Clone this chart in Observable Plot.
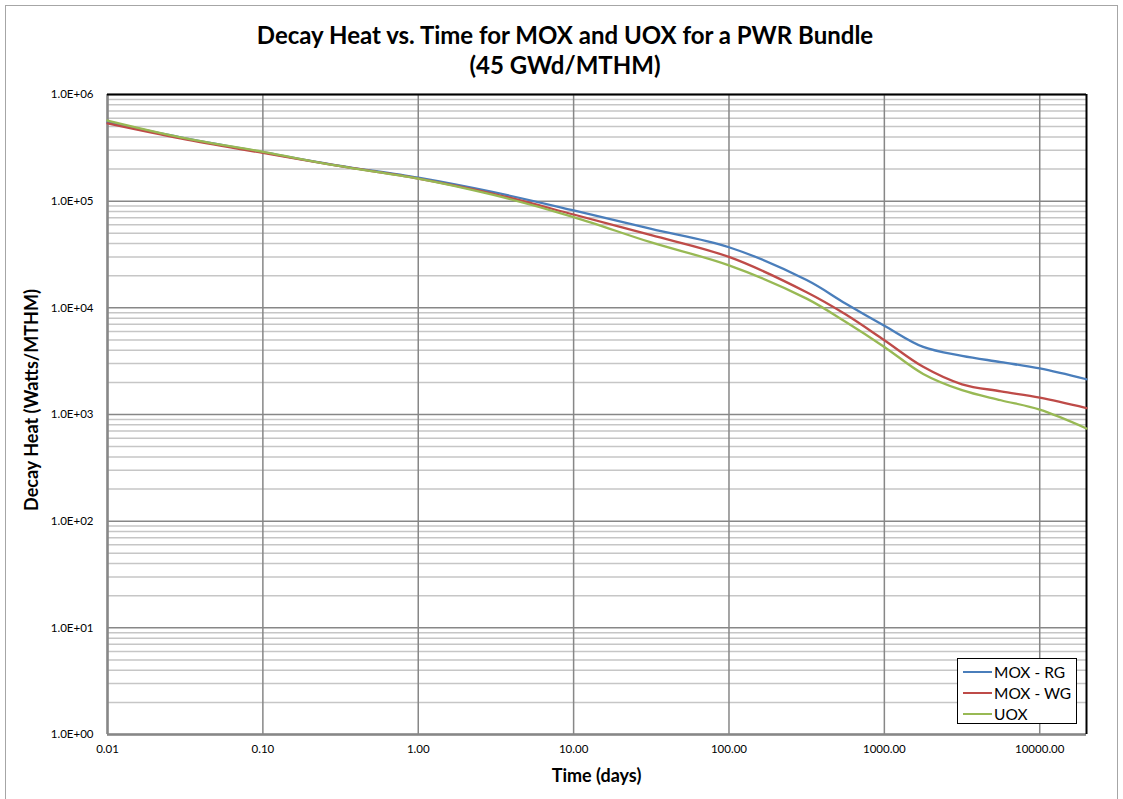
<!DOCTYPE html>
<html>
<head>
<meta charset="utf-8">
<script src="https://cdn.jsdelivr.net/npm/d3@7"></script>
<script src="https://cdn.jsdelivr.net/npm/@observablehq/plot@0.6"></script>
<style>
  html, body { margin: 0; padding: 0; background: #fff; }
  #wrap { position: relative; width: 1123px; height: 799px; overflow: hidden; font-family: Lato, "Open Sans", sans-serif; }
  #border { position: absolute; left: 5px; top: 5px; width: 1113px; height: 820px; border: 1px solid #a6a6a6; box-sizing: border-box; }
  #title { position: absolute; left: 0; width: 1130px; top: 20px; text-align: center; font-weight: bold; font-size: 24px; line-height: 30px; color: #000; }
  #xlabel { position: absolute; left: 107px; width: 979px; top: 764px; text-align: center; font-weight: bold; font-size: 18px; color: #000; }
  #ylabel { position: absolute; left: 31px; top: 400px; transform: translate(-50%, -50%) rotate(-90deg); white-space: nowrap; font-weight: bold; font-size: 18px; color: #000; }
  #legend { position: absolute; left: 957px; top: 658px; width: 120px; height: 66px; border: 1.5px solid #000; box-sizing: border-box; background: #fff; font-size: 15.5px; }
  #legend .item { position: absolute; left: 5px; height: 20px; display: flex; align-items: center; }
  #legend .sw { width: 29px; height: 2.5px; margin-right: 2px; }
  #chart { position: absolute; left: 0; top: 0; }
  #chart svg g[aria-label="x-axis tick label"], #chart svg g[aria-label="y-axis tick label"] { font-size: 11.5px !important; }
</style>
</head>
<body>
<div id="wrap">
  <div id="border"></div>
  <div id="chart"></div>
  <div id="title">Decay Heat vs. Time for MOX and UOX for a PWR Bundle<br>(45 GWd/MTHM)</div>
  <div id="ylabel">Decay Heat (Watts/MTHM)</div>
  <div id="xlabel">Time (days)</div>
  <div id="legend"></div>
</div>
<script>
// ---- data ----
const timeDays = [0.01, 0.03, 0.1, 0.3, 1, 3, 10, 31.6, 100, 316, 562, 1000, 1778, 3162, 5623, 10000, 20000];
const moxRG = [5.5e5, 3.95e5, 2.88e5, 2.17e5, 1.66e5, 1.22e5, 8.2e4, 5.5e4, 3.7e4, 1.82e4, 1.1e4, 6.8e3, 4.3e3, 3.55e3, 3.1e3, 2.7e3, 2.14e3];
const moxWG = [5.35e5, 3.85e5, 2.83e5, 2.15e5, 1.63e5, 1.18e5, 7.5e4, 4.8e4, 3.0e4, 1.4e4, 8.7e3, 4.97e3, 2.8e3, 1.92e3, 1.65e3, 1.44e3, 1.15e3];
const uox   = [5.7e5, 3.95e5, 2.9e5, 2.15e5, 1.63e5, 1.15e5, 7.1e4, 4.1e4, 2.5e4, 1.22e4, 7.4e3, 4.3e3, 2.4e3, 1.69e3, 1.36e3, 1.11e3, 740];
const seriesNames = ["MOX - RG", "MOX - WG", "UOX"];
const seriesColors = ["#4a7ebb", "#be4b48", "#98b954"];
const xTicks = [0.01, 0.1, 1, 10, 100, 1000, 10000];
const yTicks = [1, 10, 100, 1000, 10000, 100000, 1000000];
const xDomain = [0.01, 20000];
const yDomain = [1, 1e6];

const seriesValues = [moxRG, moxWG, uox];
const rows = [];
seriesNames.forEach((name, i) => {
  timeDays.forEach((t, j) => rows.push({series: name, t, v: seriesValues[i][j]}));
});
const minorY = [];
for (let e = 0; e < 6; e++) for (let m = 2; m <= 9; m++) minorY.push(m * Math.pow(10, e));

const chart = Plot.plot({
  width: 1123,
  height: 799,
  marginLeft: 107,
  marginRight: 37,
  marginTop: 94,
  marginBottom: 65,
  style: {fontFamily: "Lato, 'Open Sans', sans-serif", fontSize: "12px", color: "#000", background: "transparent"},
  x: {type: "log", domain: xDomain, label: null},
  y: {type: "log", domain: yDomain, label: null},
  color: {domain: seriesNames, range: seriesColors},
  marks: [
    Plot.ruleY(minorY, {stroke: "#c6c6c6", strokeWidth: 1.5}),
    Plot.ruleY(yTicks, {stroke: "#878787", strokeWidth: 1.5}),
    Plot.ruleX(xTicks, {stroke: "#878787", strokeWidth: 1.5}),
    Plot.ruleX([xDomain[0]], {stroke: "#878787", strokeWidth: 2.5}),
    Plot.ruleY([yDomain[0]], {stroke: "#878787", strokeWidth: 2.5}),
    Plot.ruleY([yDomain[1]], {stroke: "#000", strokeWidth: 2}),
    Plot.ruleX([xDomain[1]], {stroke: "#000", strokeWidth: 2}),
    Plot.line(rows, {x: "t", y: "v", z: "series", stroke: "series", strokeWidth: 2.3, curve: "catmull-rom"}),
    Plot.axisX({ticks: xTicks, tickSize: 0, tickPadding: 10, tickFormat: d => d.toFixed(2), label: null}),
    Plot.axisY({ticks: yTicks, tickSize: 0, tickPadding: 14, tickFormat: d => "1.0E+" + String(Math.round(Math.log10(d))).padStart(2, "0"), label: null})
  ]
});
document.getElementById("chart").appendChild(chart);

const legend = document.getElementById("legend");
seriesNames.forEach((name, i) => {
  const item = document.createElement("div");
  item.className = "item";
  item.style.top = (3 + i * 21) + "px";
  const sw = document.createElement("div");
  sw.className = "sw";
  sw.style.background = seriesColors[i];
  const tx = document.createElement("span");
  tx.textContent = name;
  item.appendChild(sw);
  item.appendChild(tx);
  legend.appendChild(item);
});
</script>
</body>
</html>
